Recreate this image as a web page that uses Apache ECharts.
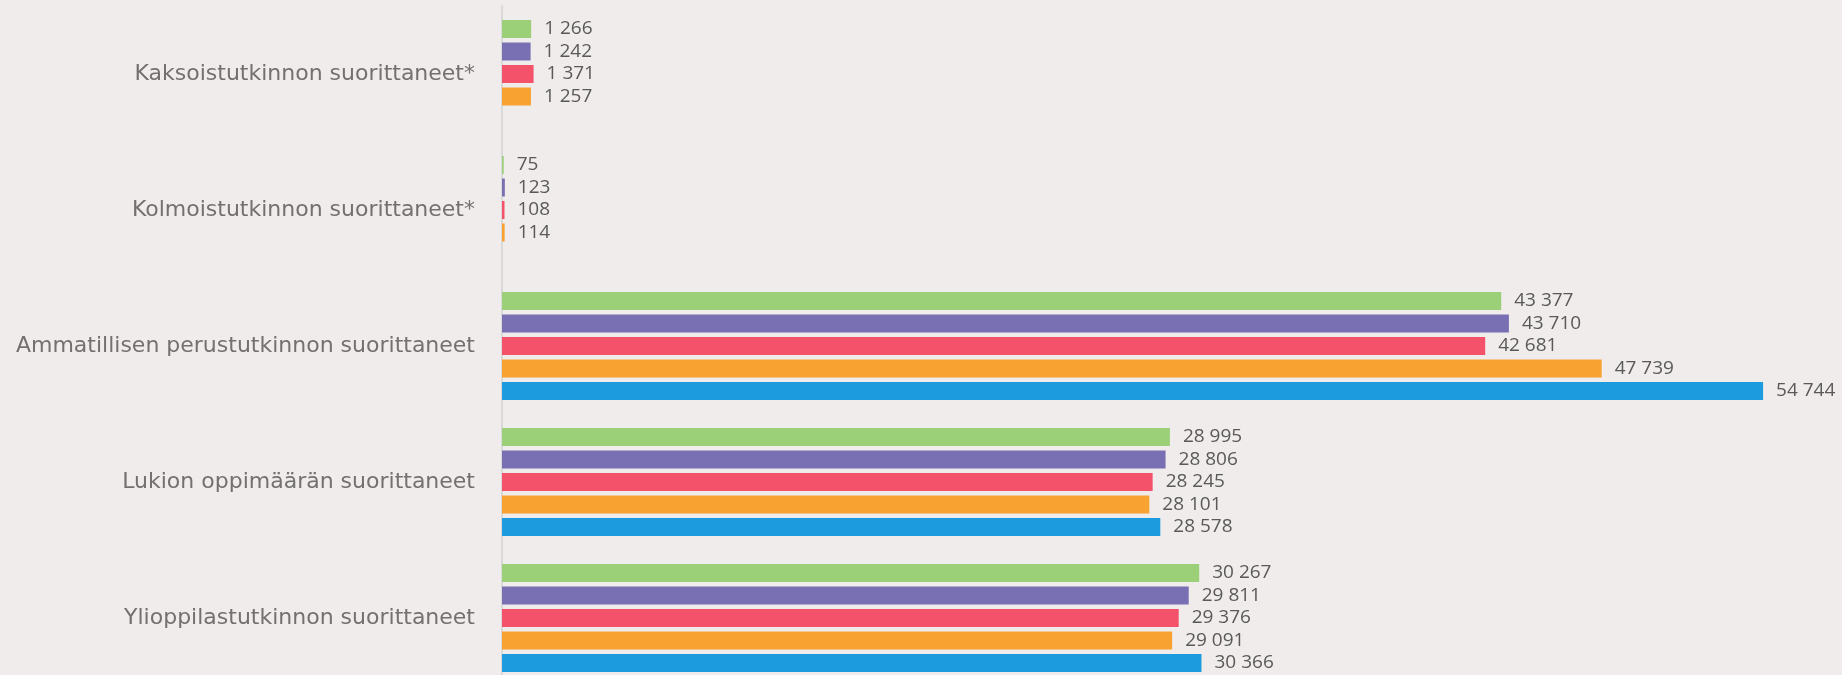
<!DOCTYPE html>
<html>
<head>
<meta charset="utf-8">
<script src="https://cdn.jsdelivr.net/npm/echarts@6/dist/echarts.min.js"></script>
<style>
  html, body { margin: 0; padding: 0; background: #f0eceb; }
  #main { width: 1842px; height: 675px; }
</style>
</head>
<body>
<div id="main"></div>
<script>
const categories = [
    'Kaksoistutkinnon suorittaneet*',
    'Kolmoistutkinnon suorittaneet*',
    'Ammatillisen perustutkinnon suorittaneet',
    'Lukion oppimäärän suorittaneet',
    'Ylioppilastutkinnon suorittaneet'
];
const greenValues = [1266, 75, 43377, 28995, 30267];
const purpleValues = [1242, 123, 43710, 28806, 29811];
const redValues = [1371, 108, 42681, 28245, 29376];
const orangeValues = [1257, 114, 47739, 28101, 29091];
const blueValues = [null, null, 54744, 28578, 30366];

const colors = ['#9bcf78', '#7870b2', '#f4526a', '#f8a232', '#1c9cde'];
const allValues = [greenValues, purpleValues, redValues, orangeValues, blueValues];

// numbers with a space as thousands separator
function fmt(v) {
    return String(v).replace(/\B(?=(\d{3})+(?!\d))/g, ' ');
}

let myChart = echarts.init(document.getElementById('main'));

let series = allValues.map((vals, i) => ({
    type: 'bar',
    data: vals,
    barWidth: 18,
    barGap: '25%',
    itemStyle: {
        color: colors[i]
    },
    label: {
        show: true,
        position: 'right',
        distance: 13,
        color: '#595959',
        fontSize: 19,
        fontFamily: 'Open Sans',
        formatter: p => fmt(p.value)
    }
}));

let option = {
    backgroundColor: '#f0eceb',
    animation: false,
    grid: {
        left: 502,
        top: 6,
        width: 1290,
        height: 680,
        outerBoundsMode: 'none'
    },
    xAxis: {
        type: 'value',
        min: 0,
        max: 56000,
        show: false
    },
    yAxis: {
        type: 'category',
        inverse: true,
        data: categories,
        axisLine: { show: true, lineStyle: { color: '#d9d9d9', width: 2 } },
        axisTick: { show: false },
        axisLabel: {
            margin: 27,
            color: '#737070',
            fontSize: 22,
            fontFamily: 'DejaVu Sans'
        }
    },
    series: series
};

myChart.setOption(option);
</script>
</body>
</html>
